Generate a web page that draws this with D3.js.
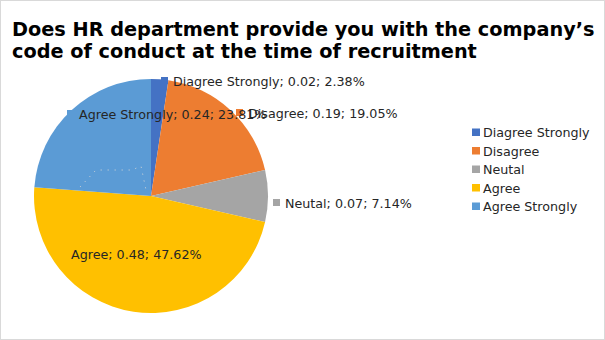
<!DOCTYPE html>
<html><head><meta charset="utf-8">
<script src="https://cdn.jsdelivr.net/npm/d3@7"></script>
<style>html,body{margin:0;padding:0;background:#fff;}svg{display:block;}</style>
</head><body>
<svg id="c" width="605" height="340"></svg>
<script>
const categories = ["Diagree Strongly", "Disagree", "Neutal", "Agree", "Agree Strongly"];
const values = [0.02, 0.19, 0.07, 0.48, 0.24];
const percents = [2.38, 19.05, 7.14, 47.62, 23.81];
const colors = ["#4472C4", "#ED7D31", "#A5A5A5", "#FFC000", "#5B9BD5"];
const titleLines = ["Does HR department provide you with the company\u2019s", "code of conduct at the time of recruitment"];

// label anchor positions (layout only)
const labelPos = [
  {x: 173, y: 86},
  {x: 248, y: 118},
  {x: 285, y: 208},
  {x: 71, y: 259},
  {x: 79, y: 119}
];

const svg = d3.select("#c");
svg.append("rect").attr("x",0.5).attr("y",0.5).attr("width",604).attr("height",339)
  .attr("fill","#fff").attr("stroke","#d9d9d9");

const font = "'DejaVu Sans', sans-serif";
svg.append("g").selectAll("text").data(titleLines).join("text")
  .attr("x", 12).attr("y", (d,i)=>36 + i*22)
  .attr("font-family", font).attr("font-weight","bold").attr("font-size", 19.3)
  .attr("fill","#000").text(d=>d);

const cx = 151, cy = 196, r = 117;
const pie = d3.pie().sort(null).value(d=>d)(percents);
const arc = d3.arc().innerRadius(0).outerRadius(r);
const g = svg.append("g").attr("transform", `translate(${cx},${cy})`);
g.selectAll("path").data(pie).join("path")
  .attr("d", arc).attr("fill", (d,i)=>colors[i]);

// leader line for Agree Strongly
svg.append("polyline")
  .attr("points", "80,187 96,170 132,170 141,166 146,190")
  .attr("fill","none").attr("stroke","#d9d9d9").attr("stroke-width",1)
  .attr("stroke-dasharray","1,6");

const fmt = d3.format(".2f");
const lg = svg.append("g");
categories.forEach((c,i)=>{
  const p = labelPos[i];
  lg.append("rect").attr("x", p.x-12).attr("y", p.y-9).attr("width",7).attr("height",7).attr("fill",colors[i]);
  lg.append("text").attr("x", p.x).attr("y", p.y)
    .attr("font-family", font).attr("font-size", 12.7).attr("fill","#262626")
    .text(`${c}; ${fmt(values[i])}; ${fmt(percents[i])}%`);
});

// legend
const leg = svg.append("g").attr("transform","translate(472,137)");
categories.forEach((c,i)=>{
  const y = i*18.5;
  leg.append("rect").attr("x",0).attr("y",y-8.5).attr("width",8).attr("height",7.5).attr("fill",colors[i]);
  leg.append("text").attr("x",11).attr("y",y).attr("font-family",font).attr("font-size",12.7)
    .attr("fill","#262626").text(c);
});
</script>
</body></html>
